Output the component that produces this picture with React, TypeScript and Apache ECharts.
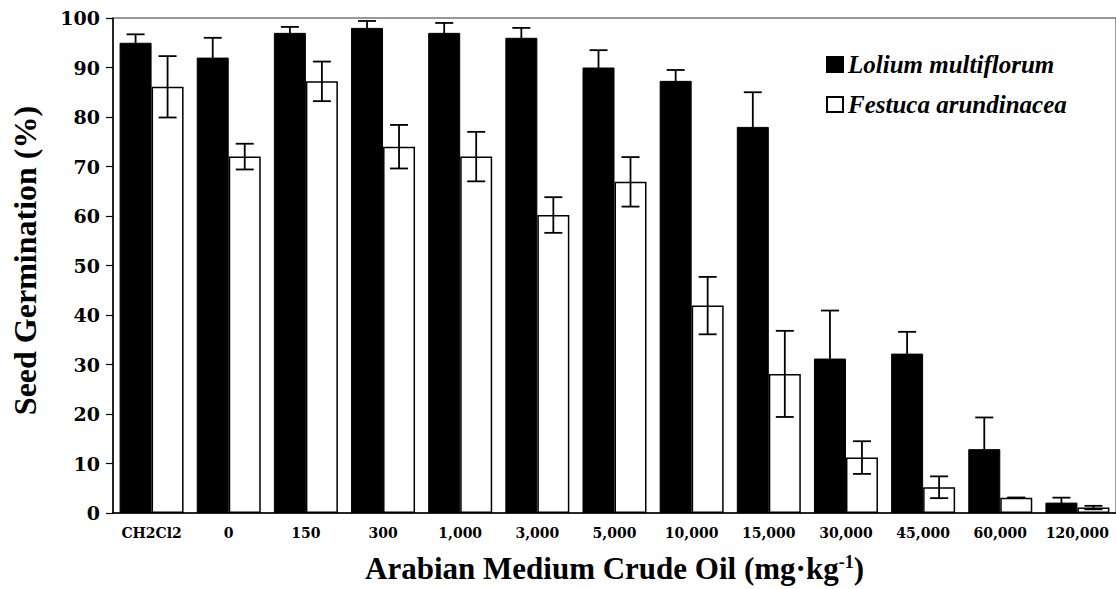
import React, { useEffect, useRef } from "react";
import * as echarts from "echarts";

// Oil concentrations (mg·kg-1) tested, plus the CH2Cl2 solvent control
const categories = [
  "CH2Cl2", "0", "150", "300", "1,000", "3,000", "5,000",
  "10,000", "15,000", "30,000", "45,000", "60,000", "120,000",
];

// Mean seed germination (%) and standard error for each species
const loliumMean = [95, 92, 97, 98, 97, 96, 90, 87.3, 78, 31.2, 32.2, 12.9, 2.1];
const loliumErr = [1.7, 4, 1.2, 1.4, 2, 2, 3.5, 2.2, 7, 9.7, 4.4, 6.4, 1];
const festucaMean = [86.1, 72, 87.2, 74, 72, 60.2, 66.9, 41.9, 28.1, 11.2, 5.2, 3.1, 1.1];
const festucaErr = [6.2, 2.6, 4, 4.4, 5, 3.6, 5, 5.8, 8.7, 3.3, 2.2, 0, 0.35];

const yTicks = { min: 0, max: 100, interval: 10 };

const BAR_WIDTH = 32;
const CAP_HALF = 9;
const SERIF = "Liberation Serif";
const TICK_FONT = "DejaVu Serif";

function errorSeries(name: string, means: number[], errs: number[], offset: number) {
  return {
    type: "custom",
    name: name + " error",
    z: 10,
    silent: true,
    encode: { x: 0, y: [1, 2] },
    data: means.map((m, i) => [i, m - errs[i], m + errs[i]]),
    renderItem: (_params: any, api: any) => {
      const idx = api.value(0);
      const lo = api.coord([idx, api.value(1)]);
      const hi = api.coord([idx, api.value(2)]);
      const x = lo[0] + offset;
      const style = { stroke: "#000", lineWidth: 1.8 };
      return {
        type: "group",
        children: [
          { type: "line", shape: { x1: x, y1: lo[1], x2: x, y2: hi[1] }, style },
          { type: "line", shape: { x1: x - CAP_HALF, y1: hi[1], x2: x + CAP_HALF, y2: hi[1] }, style },
          { type: "line", shape: { x1: x - CAP_HALF, y1: lo[1], x2: x + CAP_HALF, y2: lo[1] }, style },
        ],
      };
    },
  };
}

export default function App() {
  const ref = useRef<HTMLDivElement>(null);

  useEffect(() => {
    if (!ref.current) return;
    const chart = echarts.init(ref.current, undefined, { renderer: "svg" });
    chart.setOption({
      animation: false,
      backgroundColor: "#fff",
      grid: {
        left: 113,
        top: 18,
        width: 1009,
        height: 495,
        show: true,
        borderColor: "#333",
        borderWidth: 1,
        backgroundColor: "transparent",
      },
      legend: {
        data: ["Lolium multiflorum", "Festuca arundinacea"],
        orient: "vertical",
        left: 826,
        top: 52,
        padding: 0,
        itemWidth: 16,
        itemHeight: 15,
        itemGap: 15,
        icon: "rect",
        textStyle: {
          fontFamily: SERIF,
          fontWeight: "bold",
          fontStyle: "italic",
          fontSize: 25,
          color: "#000",
        },
      },
      xAxis: {
        type: "category",
        data: categories,
        name: "{t|Arabian Medium Crude Oil (mg·kg}{s|-1}{t|)}",
        nameLocation: "middle",
        nameGap: 40,
        nameTextStyle: {
          rich: {
            t: { fontFamily: SERIF, fontWeight: "bold", fontSize: 31, color: "#000" },
            s: { fontFamily: SERIF, fontWeight: "bold", fontSize: 18, color: "#000", verticalAlign: "top" },
          },
        },
        axisLine: { lineStyle: { color: "#000", width: 1.5 } },
        axisTick: { length: 5, lineStyle: { color: "#000", width: 1.2 } },
        axisLabel: {
          interval: 0,
          margin: 13,
          fontFamily: TICK_FONT,
          fontWeight: "bold",
          fontSize: 14,
          color: "#000",
        },
        splitLine: { show: false },
      },
      yAxis: {
        type: "value",
        min: yTicks.min,
        max: yTicks.max,
        interval: yTicks.interval,
        name: "Seed Germination (%)",
        nameLocation: "middle",
        nameGap: 72,
        nameTextStyle: {
          fontFamily: SERIF,
          fontWeight: "bold",
          fontSize: 32,
          color: "#000",
          padding: [0, 0, 0, 10],
        },
        axisLine: { show: true, lineStyle: { color: "#000", width: 1.5 } },
        axisTick: { show: true, length: 7, lineStyle: { color: "#000", width: 1.2 } },
        axisLabel: {
          margin: 13,
          fontFamily: TICK_FONT,
          fontWeight: "bold",
          fontSize: 19,
          color: "#000",
        },
        splitLine: { show: false },
      },
      series: [
        {
          type: "bar",
          name: "Lolium multiflorum",
          data: loliumMean,
          barWidth: BAR_WIDTH,
          barGap: "0%",
          itemStyle: { color: "#000", borderColor: "#000", borderWidth: 1 },
        },
        {
          type: "bar",
          name: "Festuca arundinacea",
          data: festucaMean,
          barWidth: BAR_WIDTH,
          barGap: "0%",
          itemStyle: { color: "#fff", borderColor: "#000", borderWidth: 1.5 },
        },
        errorSeries("Lolium multiflorum", loliumMean, loliumErr, -BAR_WIDTH / 2),
        errorSeries("Festuca arundinacea", festucaMean, festucaErr, BAR_WIDTH / 2),
      ],
    });
    return () => chart.dispose();
  }, []);

  return (
    <div
      ref={ref}
      style={{ position: "fixed", left: 0, top: 0, width: 1116, height: 589, background: "#fff" }}
    />
  );
}
